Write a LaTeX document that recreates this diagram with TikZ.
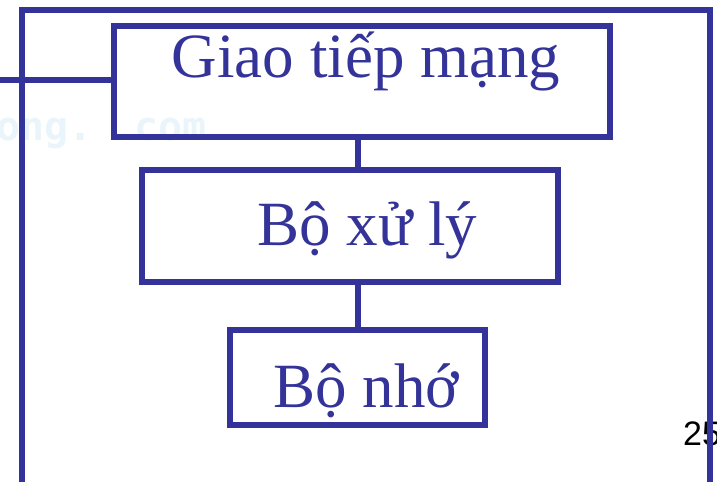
\documentclass[tikz,border=0pt]{standalone}
\usepackage{fontspec}
\setmainfont{Liberation Serif}
\newfontfamily\pagenofont{Liberation Sans}
\newfontfamily\markfont{DejaVu Sans Mono}

\definecolor{slideblue}{RGB}{51,51,153}
\definecolor{markblue}{RGB}{234,245,251}

\tikzset{
  unitbox/.style = {draw=slideblue, line width=6pt, inner sep=0pt, outer sep=0pt},
  unitname/.style = {text=slideblue, font=\fontsize{63}{63}\selectfont, inner sep=0pt, anchor=base},
  wire/.style = {draw=slideblue, line width=6pt, line join=miter}
}

\begin{document}
\begin{tikzpicture}[x = 1pt, y = -1pt]
  \useasboundingbox (0,0) rectangle (717,482);

  %%%%%%%%%%%Faint watermark%%%%%%%%%%%%%%%
  \node[font=\markfont\bfseries\fontsize{40}{40}\selectfont, text=markblue,
        anchor=base west, inner sep=0pt] (wmong) at (-4,140) {ong.};
  \node[font=\markfont\bfseries\fontsize{40}{40}\selectfont, text=markblue,
        anchor=base west, inner sep=0pt] (wmcom) at (134,140) {com};

  %%%%%%%%%%%Page number%%%%%%%%%%%%%%%%%%%
  \node[font=\pagenofont\fontsize{34}{34}\selectfont, anchor=base west,
        inner sep=0pt] (pageno) at (683,445) {25};

  %%%%%%%%%%%Draw the outer frame%%%%%%%%%%%
  \draw[wire] (22,482) -- (22,10) -- (710,10) -- (710,482);

  %%%%%%%%%%%Draw the three units%%%%%%%%%%
  \node[unitbox, minimum width=496pt, minimum height=111pt] (giao) at (362,81.5) {};
  \node[unitname] (tgiao) at (366,77) {Giao tiếp mạng};

  \node[unitbox, minimum width=416pt, minimum height=112pt] (xuly) at (350,226) {};
  \node[unitname] (txuly) at (367.5,245) {Bộ xử lý};

  \node[unitbox, minimum width=255pt, minimum height=95pt] (nho) at (357.5,377.5) {};
  \node[unitname] (tnho) at (366.5,407) {Bộ nhớ};

  %%%%%%%%%%%Connect the units%%%%%%%%%%%%%
  \coordinate (trunk) at (358,0);
  \coordinate (lan) at (0,79.5);
  \draw[wire] (lan) -- (lan -| giao.west);
  \draw[wire] (giao.south -| trunk) -- (xuly.north -| trunk);
  \draw[wire] (xuly.south -| trunk) -- (nho.north -| trunk);
\end{tikzpicture}
\end{document}
